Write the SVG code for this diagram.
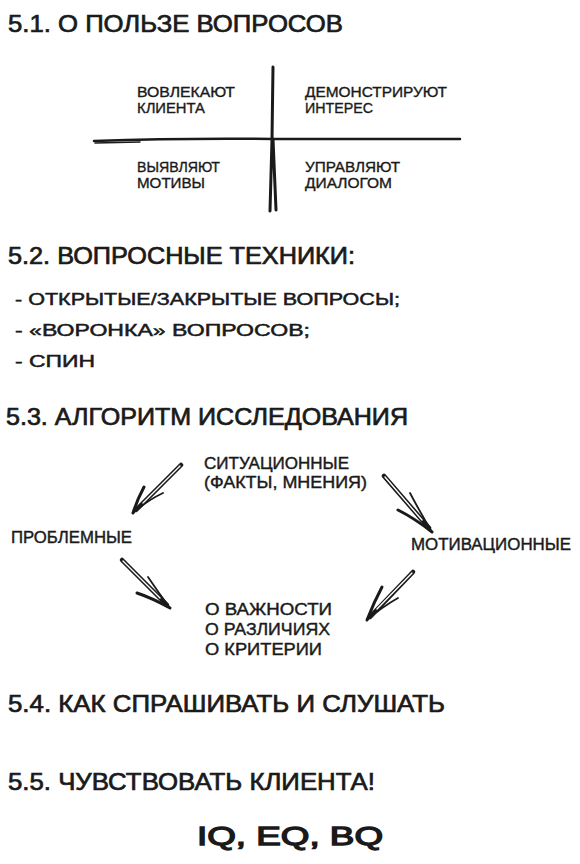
<svg xmlns="http://www.w3.org/2000/svg" width="580" height="864" viewBox="0 0 580 864">
<style>
text{font-family:"Liberation Sans","DejaVu Sans",sans-serif;fill:#1a1a1a;stroke:#1a1a1a;stroke-width:0.35}
.h{font-size:24px;stroke-width:0.7}
.li{font-size:17px;stroke-width:0.5}
.q{font-size:14px}
.d{font-size:16px;stroke-width:0.4}
.big{font-size:25px;stroke-width:1.3}
.ln{stroke:#1a1a1a;fill:none;stroke-linecap:round}
.sh{stroke:#1a1a1a;stroke-width:4.5;fill:none;stroke-linecap:round}
.in{stroke:#fff;stroke-width:1.4;fill:none;stroke-linecap:round}
.bb{stroke:#1a1a1a;stroke-width:3;fill:none;stroke-linecap:round}
.bt{stroke:#1a1a1a;stroke-width:1.8;fill:none;stroke-linecap:round}
</style>
<rect width="580" height="864" fill="#fff"/>

<g id="h51"><text class="h" x="8" y="32" textLength="335" lengthAdjust="spacingAndGlyphs">5.1. О ПОЛЬЗЕ ВОПРОСОВ</text></g>

<g id="quadrant-axes">
<path class="ln" stroke-width="3" d="M273 67 L272 139 L270 211 M273 139 L276 210"/>
<path class="ln" stroke-width="2.5" d="M94 141 Q180 138 273 139 L460 139"/>
<path class="ln" stroke-width="1.5" d="M95 143 L140 142"/>
</g>
<g id="q1"><text class="q" x="137" y="97" textLength="98" lengthAdjust="spacingAndGlyphs">ВОВЛЕКАЮТ</text><text class="q" x="137" y="113" textLength="68" lengthAdjust="spacingAndGlyphs">КЛИЕНТА</text></g>
<g id="q2"><text class="q" x="305" y="97" textLength="142" lengthAdjust="spacingAndGlyphs">ДЕМОНСТРИРУЮТ</text><text class="q" x="305" y="113" textLength="68" lengthAdjust="spacingAndGlyphs">ИНТЕРЕС</text></g>
<g id="q3"><text class="q" x="137" y="172" textLength="83" lengthAdjust="spacingAndGlyphs">ВЫЯВЛЯЮТ</text><text class="q" x="137" y="188" textLength="68" lengthAdjust="spacingAndGlyphs">МОТИВЫ</text></g>
<g id="q4"><text class="q" x="305" y="172" textLength="95" lengthAdjust="spacingAndGlyphs">УПРАВЛЯЮТ</text><text class="q" x="305" y="188" textLength="87" lengthAdjust="spacingAndGlyphs">ДИАЛОГОМ</text></g>

<g id="h52"><text class="h" x="8" y="264" textLength="347" lengthAdjust="spacingAndGlyphs">5.2. ВОПРОСНЫЕ ТЕХНИКИ:</text></g>
<g id="list">
<text class="li" x="15" y="305" textLength="385" lengthAdjust="spacingAndGlyphs">- ОТКРЫТЫЕ/ЗАКРЫТЫЕ ВОПРОСЫ;</text>
<text class="li" x="15" y="336" textLength="295" lengthAdjust="spacingAndGlyphs">- «ВОРОНКА» ВОПРОСОВ;</text>
<text class="li" x="15" y="367" textLength="80" lengthAdjust="spacingAndGlyphs">- СПИН</text>
</g>

<g id="h53"><text class="h" x="6" y="425" textLength="402" lengthAdjust="spacingAndGlyphs">5.3. АЛГОРИТМ ИССЛЕДОВАНИЯ</text></g>
<g id="situational"><text class="d" x="204" y="469" textLength="145" lengthAdjust="spacingAndGlyphs">СИТУАЦИОННЫЕ</text><text class="d" x="204" y="488" textLength="163" lengthAdjust="spacingAndGlyphs">(ФАКТЫ, МНЕНИЯ)</text></g>
<g id="problem"><text class="d" x="11" y="543" textLength="121" lengthAdjust="spacingAndGlyphs">ПРОБЛЕМНЫЕ</text></g>
<g id="motivation"><text class="d" x="411" y="550" textLength="160" lengthAdjust="spacingAndGlyphs">МОТИВАЦИОННЫЕ</text></g>
<g id="about"><text class="d" x="205" y="615" textLength="127" lengthAdjust="spacingAndGlyphs">О ВАЖНОСТИ</text><text class="d" x="205" y="635" textLength="125" lengthAdjust="spacingAndGlyphs">О РАЗЛИЧИЯХ</text><text class="d" x="205" y="655" textLength="117" lengthAdjust="spacingAndGlyphs">О КРИТЕРИИ</text></g>

<g id="connectors">
<g id="a1">
<path class="sh" d="M181 465 L136 510"/><path class="in" d="M180 466 L143 503"/>
<path class="bb" d="M133 513 Q137 500 144 487"/><path class="bt" d="M133 513 Q148 500 163 493"/>
</g>
<g id="a2">
<path class="sh" d="M384 476 L429 528"/><path class="in" d="M385 477 L422 520"/>
<path class="bt" d="M432 532 Q420 512 410 493"/><path class="bb" d="M432 532 Q414 518 398 510"/>
</g>
<g id="a3">
<path class="sh" d="M122 560 L167 605"/><path class="in" d="M123 561 L160 598"/>
<path class="bt" d="M170 608 Q158 592 148 577"/><path class="bb" d="M170 608 Q152 598 137 593"/>
</g>
<g id="a4">
<path class="sh" d="M413 572 L370 617"/><path class="in" d="M412 573 L377 609"/>
<path class="bb" d="M367 620 Q374 602 382 587"/><path class="bt" d="M367 620 Q382 607 398 598"/>
</g>
</g>

<g id="h54"><text class="h" x="8" y="712" textLength="437" lengthAdjust="spacingAndGlyphs">5.4. КАК СПРАШИВАТЬ И СЛУШАТЬ</text></g>
<g id="h55"><text class="h" x="8" y="790" textLength="367" lengthAdjust="spacingAndGlyphs">5.5. ЧУВСТВОВАТЬ КЛИЕНТА!</text></g>
<g id="iq"><text class="big" x="197" y="845" textLength="186" lengthAdjust="spacingAndGlyphs">IQ, EQ, BQ</text></g>
</svg>
